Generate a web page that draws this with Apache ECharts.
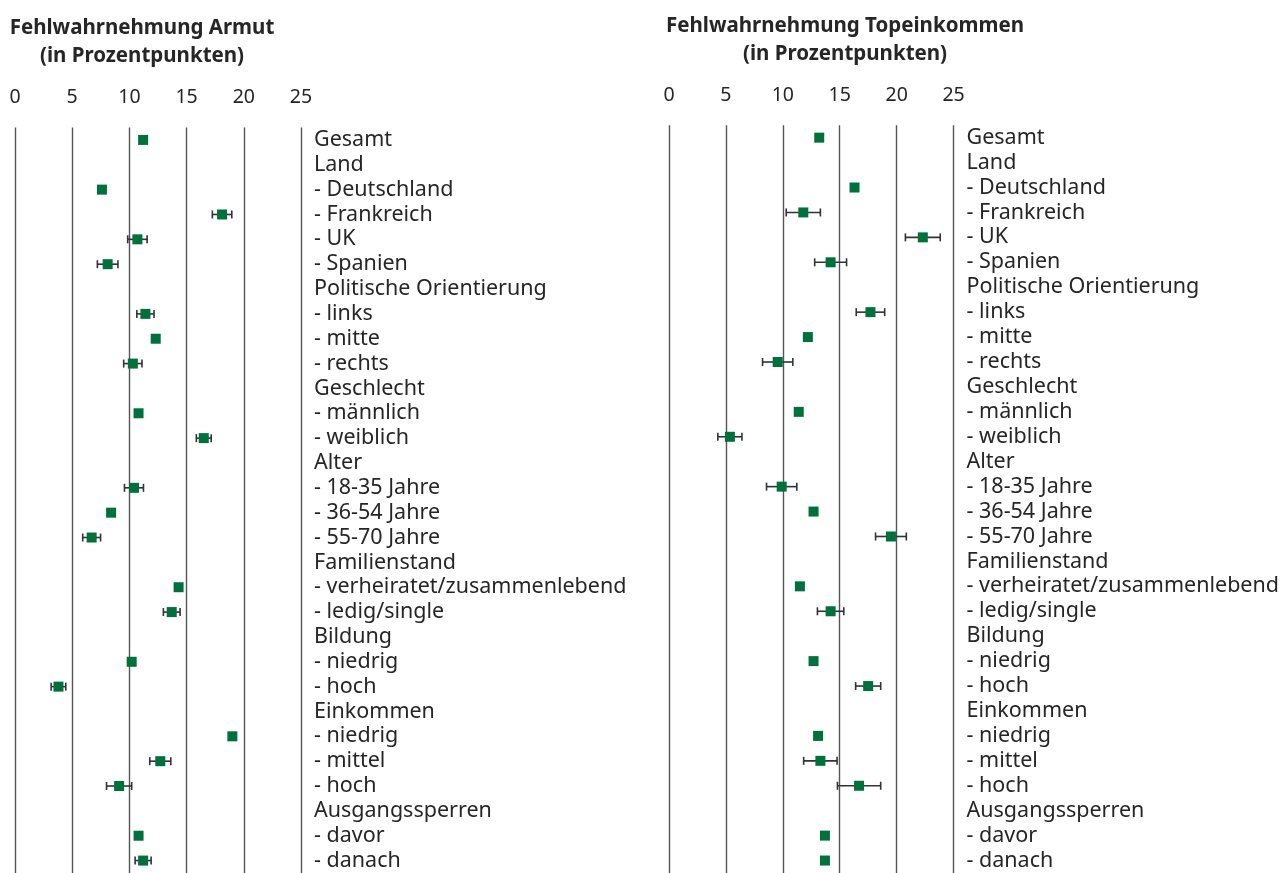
<!DOCTYPE html>
<html>
<head>
<meta charset="utf-8">
<script src="https://cdn.jsdelivr.net/npm/echarts@6/dist/echarts.min.js"></script>
<style>
  html, body { margin: 0; padding: 0; background: #fff; }
  #chart { width: 1282px; height: 873px; }
</style>
</head>
<body>
<div id="chart"></div>
<script>
const categories = [
  'Gesamt', 'Land', '- Deutschland', '- Frankreich', '- UK', '- Spanien',
  'Politische Orientierung', '- links', '- mitte', '- rechts',
  'Geschlecht', '- männlich', '- weiblich',
  'Alter', '- 18-35 Jahre', '- 36-54 Jahre', '- 55-70 Jahre',
  'Familienstand', '- verheiratet/zusammenlebend', '- ledig/single',
  'Bildung', '- niedrig', '- hoch',
  'Einkommen', '- niedrig', '- mittel', '- hoch',
  'Ausgangssperren', '- davor', '- danach'
];
const xTicks = [0, 5, 10, 15, 20, 25];

// Fehlwahrnehmung Armut: point estimate and half-width of the interval (null = none drawn)
const armutMean = [11.2, null, 7.6, 18.1, 10.7, 8.1, null, 11.4, 12.3, 10.3, null, 10.8, 16.5,
  null, 10.4, 8.4, 6.7, null, 14.3, 13.7, null, 10.2, 3.8, null, 19.0, 12.7, 9.1, null, 10.8, 11.2];
const armutErr = [null, null, null, 0.85, 0.85, 0.9, null, 0.75, null, 0.8, null, null, 0.65,
  null, 0.83, null, 0.78, null, null, 0.73, null, null, 0.64, null, null, 0.92, 1.1, null, null, 0.7];

// Fehlwahrnehmung Topeinkommen
const topMean = [13.2, null, 16.3, 11.8, 22.3, 14.2, null, 17.7, 12.2, 9.55, null, 11.4, 5.35,
  null, 9.9, 12.7, 19.5, null, 11.5, 14.2, null, 12.7, 17.5, null, 13.1, 13.3, 16.7, null, 13.7, 13.7];
const topErr = [null, null, null, 1.5, 1.53, 1.4, null, 1.25, null, 1.33, null, null, 1.06,
  null, 1.33, null, 1.35, null, null, 1.16, null, null, 1.1, null, null, 1.47, 1.9, null, null, null];

const FONT = 'Noto Sans';
const GREEN = '#00703c';
const INK = '#262626';

const chart = echarts.init(document.getElementById('chart'));

function pointData(mean) {
  return mean.map((v, i) => (v == null ? null : [v, i]));
}
function errData(mean, err) {
  const out = [];
  mean.forEach((v, i) => {
    if (v != null && err[i] != null) out.push([i, v - err[i], v + err[i]]);
  });
  return out;
}
function renderErr(params, api) {
  const idx = api.value(0);
  const lo = api.coord([api.value(1), idx]);
  const hi = api.coord([api.value(2), idx]);
  const cap = 4;
  const style = { stroke: '#333', lineWidth: 1.6, fill: null };
  return {
    type: 'group',
    children: [
      { type: 'line', shape: { x1: lo[0], y1: lo[1], x2: hi[0], y2: hi[1] }, style },
      { type: 'line', shape: { x1: lo[0], y1: lo[1] - cap, x2: lo[0], y2: lo[1] + cap }, style },
      { type: 'line', shape: { x1: hi[0], y1: hi[1] - cap, x2: hi[0], y2: hi[1] + cap }, style }
    ]
  };
}

const grids = [
  { left: 15, top: 127.5, width: 286, height: 750 },
  { left: 669, top: 125.2, width: 287, height: 753 }
];

const xAxes = grids.map((g, k) => ({
  type: 'value',
  gridIndex: k,
  position: 'top',
  min: xTicks[0],
  max: xTicks[xTicks.length - 1],
  interval: xTicks[1] - xTicks[0],
  axisLine: { show: false },
  axisTick: { show: false },
  axisLabel: { color: INK, fontFamily: FONT, fontSize: 19.5, margin: 20 },
  splitLine: { show: true, lineStyle: { color: '#555', width: 1.4 } }
}));

const yAxes = grids.map((g, k) => ({
  type: 'category',
  gridIndex: k,
  position: 'right',
  inverse: true,
  data: categories,
  axisLine: { show: false },
  axisTick: { show: false },
  axisLabel: {
    color: INK, fontFamily: FONT, fontSize: 21.5, align: 'left', margin: 13, interval: 0,
    padding: [3, 0, 0, 0]
  },
  splitLine: { show: false }
}));

const panels = [
  { mean: armutMean, err: armutErr },
  { mean: topMean, err: topErr }
];

const series = [];
panels.forEach((p, k) => {
  series.push({
    type: 'custom',
    xAxisIndex: k,
    yAxisIndex: k,
    renderItem: renderErr,
    data: errData(p.mean, p.err),
    encode: { x: [1, 2], y: 0 },
    silent: true,
    z: 2
  });
  series.push({
    type: 'scatter',
    xAxisIndex: k,
    yAxisIndex: k,
    symbol: 'rect',
    symbolSize: 10,
    itemStyle: { color: GREEN, opacity: 1 },
    data: pointData(p.mean),
    z: 3
  });
});

chart.setOption({
  animation: false,
  grid: grids,
  xAxis: xAxes,
  yAxis: yAxes,
  series,
  graphic: [
    {
      type: 'text', x: 142, y: 14,
      style: {
        text: 'Fehlwahrnehmung Armut\n(in Prozentpunkten)',
        font: 'bold 20.5px ' + FONT, fill: INK, align: 'center', verticalAlign: 'top', lineHeight: 28
      }
    },
    {
      type: 'text', x: 845, y: 12,
      style: {
        text: 'Fehlwahrnehmung Topeinkommen\n(in Prozentpunkten)',
        font: 'bold 20.5px ' + FONT, fill: INK, align: 'center', verticalAlign: 'top', lineHeight: 28
      }
    }
  ]
});
</script>
</body>
</html>
